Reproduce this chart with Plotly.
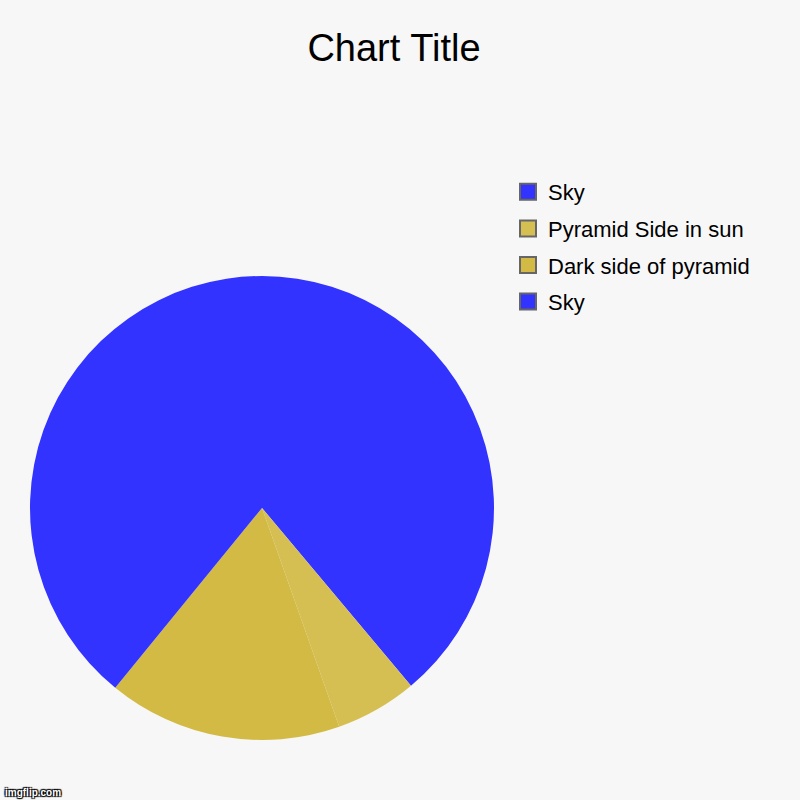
import plotly.graph_objects as go

# ----------------------------- Data -------------------------------------
# slice order is clockwise from 12 o'clock
slice_labels = ['Sky', 'Pyramid Side in sun', 'Dark side of pyramid', 'Sky ']
slice_values = [38.9, 5.7, 16.3, 39.1]
slice_colors = ['#3333FF', '#D6BF52', '#D3BA44', '#3333FF']

legend_labels = ['Sky', 'Pyramid Side in sun', 'Dark side of pyramid', 'Sky']

BG = '#F7F7F7'

fig = go.Figure()
fig.add_trace(go.Pie(
    labels=slice_labels,
    values=slice_values,
    sort=False,
    direction='clockwise',
    rotation=0,
    marker=dict(colors=slice_colors, line=dict(width=0)),
    textinfo='none',
    showlegend=False,
    domain=dict(x=[30 / 800, 494 / 800], y=[1 - 740 / 800, 1 - 276 / 800]),
    hovertemplate='<b>%{label}</b><br>%{value}<extra></extra>'
))

# legend entries with grey-bordered swatches
for i, (name, color) in enumerate(zip(legend_labels, slice_colors)):
    fig.add_trace(go.Scatter(
        x=[None], y=[None],
        mode='markers',
        name=name,
        legendgroup=f'g{i}',
        marker=dict(symbol='square', size=16, color=color,
                    line=dict(color='#666666', width=2)),
        hoverinfo='skip'
    ))

fig.update_layout(
    width=800,
    height=800,
    paper_bgcolor=BG,
    plot_bgcolor=BG,
    font=dict(family='Liberation Sans, Arial, sans-serif', color='#000000'),
    title=dict(text='Chart Title', x=394 / 800, xanchor='center', y=1 - 48 / 800, yanchor='middle',
               font=dict(size=38, color='#000000')),
    xaxis=dict(visible=False),
    yaxis=dict(visible=False),
    margin=dict(l=0, r=0, t=0, b=0),
    legend=dict(x=0.635, xanchor='left', y=1 - 171 / 800, yanchor='top',
                font=dict(size=22), bgcolor='rgba(0,0,0,0)',
                traceorder='grouped', tracegroupgap=5),
    annotations=[dict(text='<b>imgflip.com</b>', x=0.004, y=0.0, xref='paper', yref='paper',
                      xanchor='left', yanchor='bottom', showarrow=False,
                      font=dict(size=10, color='#FFFFFF',
                                shadow='1px 1px 1px #000, -1px -1px 1px #000, 1px -1px 1px #000, -1px 1px 1px #000'))]
)

fig.write_html('out.html', config={'displayModeBar': False},
               post_script="document.body.style.margin='0';")
